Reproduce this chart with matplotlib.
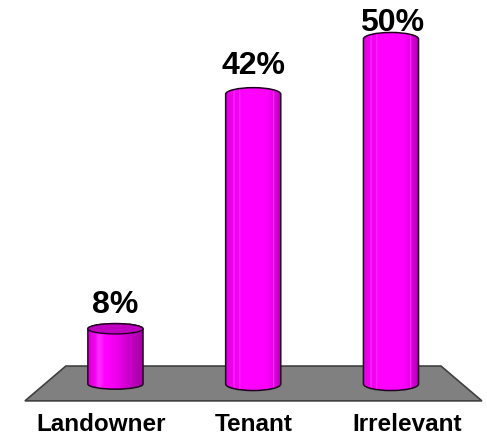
import numpy as np
import matplotlib
matplotlib.use('Agg')
import matplotlib.pyplot as plt
from matplotlib.colors import LinearSegmentedColormap
from matplotlib.patches import Polygon, PathPatch, Ellipse
from matplotlib.path import Path

categories = ['Landowner', 'Tenant', 'Irrelevant']
values = [8, 42, 50]
value_labels = ['8%', '42%', '50%']

plt.rcParams['font.family'] = ['Liberation Sans', 'DejaVu Sans']

fig = plt.figure(figsize=(4.87, 4.35), dpi=100)
ax = fig.add_axes([0, 0, 1, 1])
ax.set_xlim(-0.838, 2.697)
ax.set_ylim(-7.25, 55.8)
ax.axis('off')

# floor, in data units
floor_pts = [(-0.36, 2.6), (2.363, 2.6), (2.66, -2.45), (-0.657, -2.45)]
ax.add_patch(Polygon(floor_pts, closed=True, facecolor='#808080', edgecolor='#404040', lw=1.2, zorder=1))

shade_short = LinearSegmentedColormap.from_list('shade_short', [
    (0.0, '#d000d0'), (0.12, '#f000f0'), (0.2, '#ff30ff'), (0.3, '#ff00ff'),
    (0.5, '#f000f0'), (0.75, '#c800c8'), (1.0, '#a000a0')])
shade_tall = LinearSegmentedColormap.from_list('shade_tall', [
    (0.0, '#e000e0'), (0.13, '#f000f0'), (0.14, '#ff40ff'), (0.16, '#f400f4'),
    (0.23, '#f800f8'), (0.24, '#ff40ff'), (0.26, '#ff00ff'), (0.72, '#ff00ff'),
    (0.84, '#e800e8'), (0.85, '#ff40ff'), (0.87, '#dc00dc'), (1.0, '#b000b0')])

half_w = 0.2
grad = np.linspace(0, 1, 256).reshape(1, -1)
k = 0.5523
# value label baselines above the bar value
label_gap = [2.45, 3.05, 1.3]
label_x = [0, 0, 0.005]
name_x = [-0.105, 0, 0.115]

for i, v in enumerate(values):
    ry = 0.75 if v < 20 else 0.95
    l, r = i - half_w, i + half_w
    # body outline: straight sides, curved bottom, curved top
    verts = [(l, v), (l, 0),
             (l, -ry * k), (i - half_w * k, -ry), (i, -ry),
             (i + half_w * k, -ry), (r, -ry * k), (r, 0),
             (r, v),
             (r, v + ry * k), (i + half_w * k, v + ry), (i, v + ry),
             (i - half_w * k, v + ry), (l, v + ry * k), (l, v),
             (l, v)]
    codes = [Path.MOVETO, Path.LINETO,
             Path.CURVE4, Path.CURVE4, Path.CURVE4,
             Path.CURVE4, Path.CURVE4, Path.CURVE4,
             Path.LINETO,
             Path.CURVE4, Path.CURVE4, Path.CURVE4,
             Path.CURVE4, Path.CURVE4, Path.CURVE4,
             Path.CLOSEPOLY]
    body = PathPatch(Path(verts, codes), facecolor='none', edgecolor='#200020', lw=1.1, zorder=4)
    ax.add_patch(body)
    im = ax.imshow(grad, cmap=shade_short if v < 20 else shade_tall,
                   extent=[l, r, -ry - 1, v + ry + 1], aspect='auto', zorder=3)
    im.set_clip_path(body)
    # only the short bar shows a darker top cap
    if v < 20:
        ax.add_patch(Ellipse((i, v), 2 * half_w, 2 * ry, facecolor='#c000c0',
                             edgecolor='#200020', lw=1.0, zorder=5))
    ax.text(i + label_x[i], v + label_gap[i], value_labels[i], ha='center', va='baseline', fontsize=23,
            fontweight='bold', color='black', zorder=6)
    ax.text(i + name_x[i], -5.7, categories[i], ha='center', va='center', fontsize=17.5,
            fontweight='bold', color='black', zorder=6)

fig.savefig('out.png', dpi=100)
